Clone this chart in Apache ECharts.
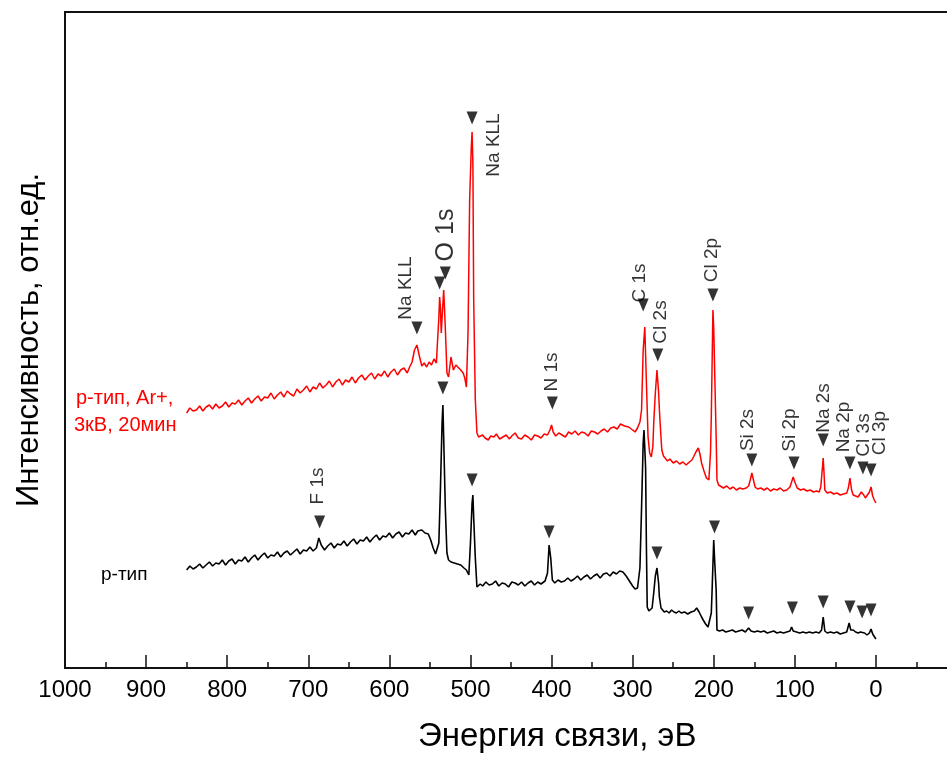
<!DOCTYPE html>
<html><head><meta charset="utf-8">
<script src="https://cdn.jsdelivr.net/npm/echarts@6/dist/echarts.min.js"></script>
<style>html,body{margin:0;padding:0;background:#fff;overflow:hidden;width:947px;height:758px}#c{width:960px;height:758px}</style>
</head><body><div id="c"></div><script>
// Binding energy (eV), intensity (arb. units)
const redSpectrum = [
[850,255],[846,260],[842,257],[838,258],[834,262],[830,257],[826,261],[822,263],[818,259],[814,264],
[810,260],[806,262],[802,266],[798,261],[794,265],[790,264],[786,268],[782,263],[778,267],[774,270],
[770,265],[766,269],[762,272],[758,267],[754,271],[750,270],[746,275],[742,269],[738,273],[734,276],
[730,271],[726,277],[722,274],[718,272],[714,279],[710,275],[706,278],[702,282],[698,276],[694,281],
[690,279],[686,285],[682,280],[678,283],[674,287],[670,281],[666,286],[662,289],[658,283],[654,288],
[650,286],[646,291],[642,285],[638,290],[634,293],[630,288],[626,292],[622,295],[618,289],[614,294],
[610,292],[606,297],[602,291],[598,296],[594,299],[590,293],[586,298],[582,300],[578,295],[575,301],
[572,306],[569,318],[566,323],[563,312],
[560,302],[557,305],[554,301],[551,306],[548,303],[545,309],[542,305],[541,321],[539,350],[538,371],
[537,360],[536,335],[535,350],[533,378],[531,340],[529,295],[527,291],[524,311],[521,298],[518,303],
[516,301],[512,298],[509,295],[507,290],[505,281],[503,335],[501,468],[499,520],[498,536],[497,505],
[496,368],[494,268],[492,235],[490,231],[488,229],[485,233],[482,230],[478,228],[475,232],[471,231],
[468,234],[464,229],[460,231],[456,233],[452,229],[449,232],[445,235],[441,230],[437,229],[433,233],
[429,231],[425,228],[421,233],[417,232],[413,230],[409,234],[405,233],[402,238],[400,243],[398,236],
[395,232],[391,235],[387,233],[383,231],[379,236],[375,234],[371,237],[367,233],[363,236],[359,235],
[355,232],[351,237],[347,236],[343,234],[339,237],[335,239],[331,236],[327,240],[323,241],[319,239],
[315,244],[313,245],[310,242],[305,241],[300,238],[297,236],[294,240],[291,246],[289,258],
[287,318],[285,341],[283,285],[281,231],[279,215],[277,211],[275,222],[274,245],[272,275],[270,298],
[268,276],[267,258],[265,230],[264,218],[262,212],[260,210],[257,207],[254,209],[250,205],[246,207],
[242,204],[238,206],[234,203],[230,206],[227,208],[225,211],[222,216],[219,220],[217,214],[215,205],
[212,197],[209,190],[206,188],[204,215],[203,251],[201,358],[200,340],[198.5,285],[197,230],[196,188],
[194,183],[192,181],[188,180],[184,182],[180,179],[176,181],[172,178],[168,180],[164,179],[160,180],
[157,182],[155,188],[153,195],[151,188],[149,181],[146,179],[142,180],[138,178],[134,180],[130,177],
[126,179],[122,178],[118,180],[114,177],[110,178],[106,181],[104,186],[102,191],[100,186],[97,180],
[93,178],[89,179],[85,177],[81,178],[77,176],[73,177],[70,176],[68,181],[66,200],[65,210],[64,195],
[63,178],[60,175],[56,176],[52,174],[48,175],[44,173],[40,174],[36,175],[34,180],[32,190],[30,178],
[28,173],[25,172],[22,171],[20,173],[18,176],[17,178],[15,173],[13,170],[11,172],[8,176],[6,181],
[4,172],[2,168],[0,165]
];
const blackSpectrum = [
[850,98],[846,102],[842,99],[838,101],[834,104],[830,100],[826,103],[822,106],[818,102],[814,105],
[810,104],[806,108],[802,103],[798,107],[794,109],[790,104],[786,108],[782,107],[778,111],[774,106],
[770,110],[766,113],[762,108],[758,112],[754,115],[750,110],[746,113],[742,112],[738,116],[734,111],
[730,115],[726,117],[722,113],[718,116],[714,119],[710,114],[706,118],[702,117],[698,121],[694,117],
[690,120],[687,130],[684,123],[680,118],[676,122],[672,125],[668,120],[664,124],[660,123],[656,127],
[652,122],[648,126],[644,129],[640,124],[636,128],[632,127],[628,131],[624,126],[620,130],[616,133],
[612,128],[608,132],[604,131],[600,135],[596,130],[592,134],[588,136],[584,131],[580,135],[576,134],
[572,138],[568,133],[565,137],[560,138],
[556,135],[552,134],[549,128],[546,120],[543,114],[541,113],[539,125],[537,180],[535,245],[534,263],
[533,230],[531,160],[529,115],[527,108],[524,106],[520,105],[516,104],[512,103],[508,100],[505,98],
[502,93],[500,125],[498,165],[497,173],[496,150],[494,110],[492,81],[488,84],[485,82],[481,86],
[477,83],[473,84],[469,87],[465,82],[461,85],[457,84],[453,81],[449,86],[445,85],[441,83],
[437,86],[433,82],[429,85],[425,87],[421,83],[417,86],[413,84],[408,87],[405,95],[403,123],
[401,110],[399,88],[396,85],[392,88],[388,86],[384,87],[380,90],[376,87],[372,89],[368,92],
[364,88],[360,91],[356,93],[352,89],[348,92],[344,94],[340,90],[336,94],[332,95],[328,92],
[324,96],[320,94],[316,97],[312,96],[308,92],[304,87],[300,82],[297,79],[294,80],[291,100],
[289,160],[287,225],[286,238],[284,200],[283,120],[282,61],[280,57],[278,55],[276,60],[274,75],
[272,92],[270,100],[268,85],[267,71],[265,60],[264,58],[261,56],[258,57],[255,55],[252,58],
[249,56],[246,55],[243,57],[240,55],[236,56],[232,54],[228,56],[224,57],[221,60],[218,56],
[215,51],[213,48],[210,44],[207,41],[205,40],[203,55],[202,78],[200,128],[199,110],[197,78],
[196,38],[193,37],[189,38],[185,36],[181,37],[177,38],[173,36],[169,37],[165,38],[161,36],
[157,40],[154,37],[150,36],[146,37],[142,36],[138,37],[134,35],[130,36],[126,37],[122,35],
[118,36],[114,35],[110,36],[106,37],[104,41],[102,37],[98,36],[94,35],[90,36],[86,35],
[82,36],[78,35],[74,36],[70,35],[67,38],[65,51],[63,37],[60,35],[56,36],[52,35],
[48,36],[44,34],[40,35],[36,36],[33,45],[31,38],[28,38],[25,36],[22,35],[19,36],
[17,38],[14,35],[11,33],[8,35],[6,39],[4,34],[2,32],[0,29]
];
// peak markers (▼)
const redMarkerE = [566,538,531,498,399,287,269,201,153,101,65,32,16,6];
const redMarkerI = [340,385,395,550,265,363,313,373,208,205,228,205,200,198];
const blackMarkerE = [686,534,498,403,270,199,157,103,65,32,17,6];
const blackMarkerI = [146,280,188,136,115,141,55,60,66,61,56,58];
// peak names
const peakNames = ['Na KLL','O 1s','Na KLL','N 1s','C 1s','Cl 2s','Cl 2p','Si 2s','Si 2p','Na 2s','Na 2p','Cl 3s','Cl 3p','F 1s'];
const peakNameE = [579.5,530,471,399.5,291,265,202,158,106,64,39.5,15,-5,688];
const peakNameI = [380,433,523,296,385,346,408,238,238,260,241,233,235,182];
// axis
const xTickLabels = ['1000','900','800','700','600','500','400','300','200','100','0'];
const xTitle = 'Энергия связи, эВ';
const yTitle = 'Интенсивность, отн.ед.';
const redName = ['р-тип, Ar+,', '3кВ, 20мин'];
const blackName = 'р-тип';

const FONT = 'Arial, "Liberation Sans", sans-serif';
const chart = echarts.init(document.getElementById('c'));
chart.setOption({
  animation: false,
  backgroundColor: '#fff',
  grid: {left: 65, right: 3, top: 12, bottom: 90, show: true, borderColor: '#111', borderWidth: 2, backgroundColor: 'transparent'},
  xAxis: {
    type: 'value', inverse: true, min: -100, max: 1000, interval: 100,
    axisLine: {show: true, lineStyle: {color: '#111', width: 2}},
    axisTick: {show: true, inside: true, length: 13, lineStyle: {color: '#111', width: 1.5}},
    minorTick: {show: true, splitNumber: 2, length: 6, lineStyle: {color: '#111', width: 1.5}},
    axisLabel: {
      margin: 10, fontSize: 24, color: '#000', fontFamily: FONT,
      formatter: v => xTickLabels.includes(String(v)) ? String(v) : ''
    },
    splitLine: {show: false}
  },
  yAxis: {
    type: 'value', min: 0, max: 656,
    axisLine: {show: false}, axisTick: {show: false}, axisLabel: {show: false}, splitLine: {show: false},
    name: yTitle, nameLocation: 'middle', nameRotate: 90, nameGap: 20,
    nameTextStyle: {fontSize: 31, color: '#000', fontFamily: FONT}
  },
  graphic: [
    {type: 'text', left: 418, top: 720, style: {text: xTitle, font: '33px ' + FONT, fill: '#000'}},
    {type: 'text', left: 76, top: 388, style: {text: redName[0], font: '20px ' + FONT, fill: '#ff0000'}},
    {type: 'text', left: 74, top: 415, style: {text: redName[1], font: '20px ' + FONT, fill: '#ff0000'}},
    {type: 'text', left: 101, top: 565, style: {text: blackName, font: '19px ' + FONT, fill: '#000'}}
  ],
  series: [
    {type: 'line', data: blackSpectrum, showSymbol: false, lineStyle: {color: '#000', width: 1.6}, z: 2},
    {type: 'line', data: redSpectrum, showSymbol: false, lineStyle: {color: '#ff0000', width: 1.5}, z: 3},
    {type: 'scatter', data: redMarkerE.map((e, i) => [e, redMarkerI[i]]), symbol: 'triangle', symbolRotate: 180,
     symbolSize: [11, 13], itemStyle: {color: '#000'}, z: 5},
    {type: 'scatter', data: blackMarkerE.map((e, i) => [e, blackMarkerI[i]]), symbol: 'triangle', symbolRotate: 180,
     symbolSize: [11, 13], itemStyle: {color: '#000'}, z: 5},
    {type: 'scatter', symbolSize: 1, itemStyle: {color: 'transparent'}, z: 6, clip: false,
     data: peakNames.map((n, i) => ({name: n, value: [peakNameE[i], peakNameI[i]],
       label: {fontSize: n === 'O 1s' ? 25 : 19}})),
     label: {show: true, formatter: '{b}', position: 'inside', rotate: 90, color: '#000', fontFamily: FONT, fontSize: 19}}
  ]
});
</script></body></html>
